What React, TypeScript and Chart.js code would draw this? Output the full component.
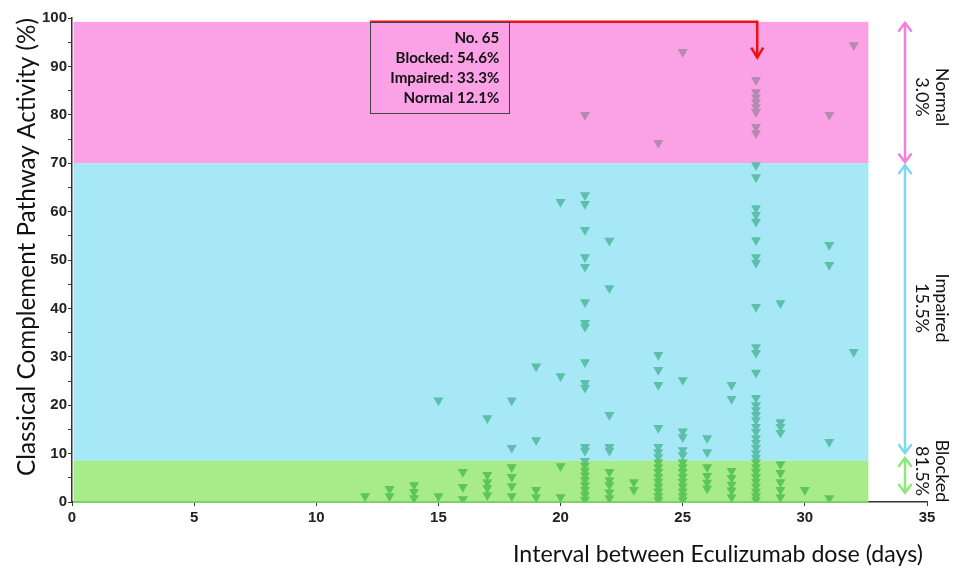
import React, { useEffect, useRef } from "react";
import { Chart, registerables } from "chart.js";

Chart.register(...registerables);

// Interval (days) for each column of points
const days = [12, 13, 14, 15, 16, 17, 18, 19, 20, 21, 22, 23, 24, 25, 26, 27, 28, 29, 30, 31, 32];

// CCPA values (%) per interval day
const d12 = [1.2];
const d13 = [2.7, 1.2];
const d14 = [3.5, 2.1, 0.8];
const d15 = [21, 1.2];
const d16 = [6.2, 3.1, 0.6];
const d17 = [17.3, 5.6, 4.1, 2.9, 1.4];
const d18 = [21, 11.2, 7.2, 5.2, 3.3, 1.2];
const d19 = [28, 12.8, 2.5, 1.0];
const d20 = [62, 26, 7.4, 1.0];
const d21 = [80, 63.4, 61.6, 56.2, 50.6, 48.6, 41.3, 37, 36.2, 28.9, 24.6, 23.6, 11.4, 10.6, 8.5, 7.5, 6.5, 5.5, 4.5, 3.5, 2.5, 1.5, 0.5];
const d22 = [54, 44.2, 18, 11.4, 10.6, 6.2, 4.5, 3.5, 2.0, 0.8];
const d23 = [4.1, 2.5];
const d24 = [74.2, 30.4, 27.3, 24.2, 15.3, 11.4, 10.3, 9.3, 8.2, 7.2, 6.2, 5.2, 4.2, 3.2, 2.2, 1.2, 0.4];
const d25 = [93, 25.2, 14.6, 13.4, 10.7, 9.7, 8.2, 7.2, 6.2, 5.2, 4.2, 3.2, 2.2, 1.2, 0.4];
const d26 = [13.2, 10.3, 7.2, 5.4, 4.0, 2.8];
const d27 = [24.2, 21.3, 6.4, 5.0, 3.6, 2.4, 1.0];
const d28 = [87.2, 84.7, 83.6, 82.6, 81.6, 80.6, 77.5, 76.2, 69.6, 67.1, 60.7, 59.3, 57.9, 54.1, 50.6, 49.4, 40.3, 32, 30.8, 26.7, 21.5, 20, 19, 18, 16.9, 15.5, 14.5, 13.2, 12.2, 11.2, 10.1, 9.1, 8.2, 7.2, 6.2, 5.2, 4.2, 3.2, 2.2, 1.2, 0.4];
const d29 = [41.1, 16.5, 15.5, 14.3, 7.8, 6.0, 4.1, 2.5, 1.0];
const d30 = [2.5];
const d31 = [80, 53.1, 49, 12.4, 0.8];
const d32 = [94.4, 31];

const columns = [d12, d13, d14, d15, d16, d17, d18, d19, d20, d21, d22, d23, d24, d25, d26, d27, d28, d29, d30, d31, d32];

// Activity zones (%)
const zoneBlockedTop = 8.5;
const zoneImpairedTop = 70;
const zoneNormalTop = 99.2;
const zoneRightDay = 32.6;

const boxLines = ["No. 65", "Blocked: 54.6%", "Impaired: 33.3%", "Normal 12.1%"];
const zoneLabels = [
  { name: "Normal", pct: "3.0%" },
  { name: "Impaired", pct: "15.5%" },
  { name: "Blocked", pct: "81.5%" },
];

const yTitle = "Classical Complement Pathway Activity (%)";
const xTitle = "Interval between Eculizumab dose (days)";

const FONT = "'Liberation Sans', Arial, sans-serif";
const TITLE_FONT = "Lato, 'Open Sans', sans-serif";

function pointColor(v: number) {
  if (v >= zoneImpairedTop) return "#b58ab0";
  if (v >= zoneBlockedTop) return "#5bbfa9";
  return "#5cc65a";
}

function fitFont(ctx: CanvasRenderingContext2D, text: string, target: number, weight: string) {
  ctx.font = `${weight} 20px ${TITLE_FONT}`;
  const w = ctx.measureText(text).width;
  const size = (20 * target) / w;
  ctx.font = `${weight} ${size.toFixed(2)}px ${TITLE_FONT}`;
  return size;
}

function arrow(ctx: CanvasRenderingContext2D, x: number, y1: number, y2: number, color: string) {
  ctx.save();
  ctx.strokeStyle = color;
  ctx.lineWidth = 2.5;
  ctx.lineCap = "round";
  ctx.beginPath();
  ctx.moveTo(x, y1);
  ctx.lineTo(x, y2);
  ctx.moveTo(x - 6, y1 + 8);
  ctx.lineTo(x, y1);
  ctx.lineTo(x + 6, y1 + 8);
  ctx.moveTo(x - 6, y2 - 8);
  ctx.lineTo(x, y2);
  ctx.lineTo(x + 6, y2 - 8);
  ctx.stroke();
  ctx.restore();
}

const decorPlugin = {
  id: "decor",
  beforeDatasetsDraw(chart: any) {
    const { ctx, scales } = chart;
    const xs = scales.x;
    const ys = scales.y;
    const left = xs.getPixelForValue(0) + 1.5;
    const right = xs.getPixelForValue(zoneRightDay);
    const yb = ys.getPixelForValue(0);
    const yg = ys.getPixelForValue(zoneBlockedTop);
    const yi = ys.getPixelForValue(zoneImpairedTop);
    const yn = ys.getPixelForValue(zoneNormalTop);
    ctx.save();
    ctx.fillStyle = "#fba2e6";
    ctx.fillRect(left, yn, right - left, yi - yn);
    ctx.fillStyle = "#a6e8f5";
    ctx.fillRect(left, yi, right - left, yg - yi);
    ctx.fillStyle = "#a8ec8a";
    ctx.fillRect(left, yg, right - left, yb - yg + 1);
    ctx.strokeStyle = "#6ec85e";
    ctx.lineWidth = 1.5;
    ctx.beginPath();
    ctx.moveTo(left, yb);
    ctx.lineTo(right, yb);
    ctx.stroke();
    ctx.restore();
  },
  afterDatasetsDraw(chart: any) {
    const { ctx, scales, chartArea } = chart;
    const xs = scales.x;
    const ys = scales.y;

    // red connector and arrow
    const rx1 = xs.getPixelForValue(12.2);
    const rx2 = xs.getPixelForValue(28.05);
    const ry = ys.getPixelForValue(zoneNormalTop);
    const ryEnd = ys.getPixelForValue(91.8);
    ctx.save();
    ctx.strokeStyle = "#ee1111";
    ctx.lineWidth = 2.5;
    ctx.beginPath();
    ctx.moveTo(rx1, ry);
    ctx.lineTo(rx2, ry);
    ctx.lineTo(rx2, ryEnd);
    ctx.stroke();
    ctx.beginPath();
    ctx.moveTo(rx2 - 6, ryEnd - 10);
    ctx.lineTo(rx2, ryEnd);
    ctx.lineTo(rx2 + 6, ryEnd - 10);
    ctx.stroke();

    // box
    const bx2 = xs.getPixelForValue(17.9);
    const by2 = ys.getPixelForValue(80.3);
    ctx.strokeStyle = "#444";
    ctx.lineWidth = 1;
    ctx.strokeRect(Math.round(rx1) + 0.5, Math.round(ry) + 0.5, Math.round(bx2 - rx1), Math.round(by2 - ry));
    ctx.fillStyle = "#111";
    fitFont(ctx, boxLines[2], 109, "bold");
    ctx.textAlign = "right";
    ctx.textBaseline = "middle";
    boxLines.forEach((t, i) => ctx.fillText(t, bx2 - 10, ry + 16 + i * 20));
    ctx.restore();

    // zone arrows
    const ax = chartArea.right - 22;
    arrow(ctx, ax, ys.getPixelForValue(99.0), ys.getPixelForValue(70.2), "#f77fd9");
    arrow(ctx, ax, ys.getPixelForValue(69.6), ys.getPixelForValue(10.1), "#7dd9f0");
    arrow(ctx, ax, ys.getPixelForValue(9.1), ys.getPixelForValue(1.9), "#8ce97a");

    // zone labels (rotated)
    const labelCenters = [97, 308, 471];
    ctx.save();
    ctx.fillStyle = "#111";
    fitFont(ctx, "Impaired", 69, "normal");
    ctx.textAlign = "center";
    ctx.textBaseline = "middle";
    zoneLabels.forEach((z, i) => {
      ctx.save();
      ctx.translate(chartArea.right + 5, labelCenters[i]);
      ctx.rotate(Math.PI / 2);
      ctx.fillText(z.name, 0, -10);
      ctx.fillText(z.pct, 0, 10);
      ctx.restore();
    });
    ctx.restore();

    // axis titles
    ctx.save();
    ctx.fillStyle = "#111";
    ctx.textBaseline = "middle";
    ctx.textAlign = "center";
    ctx.save();
    fitFont(ctx, yTitle, 458, "normal");
    ctx.translate(27, 247);
    ctx.rotate(-Math.PI / 2);
    ctx.fillText(yTitle, 0, 0);
    ctx.restore();
    fitFont(ctx, xTitle, 410, "normal");
    ctx.fillText(xTitle, 718, 555);
    ctx.restore();
  },
};

export default function App() {
  const ref = useRef<HTMLCanvasElement | null>(null);

  useEffect(() => {
    if (!ref.current) return;
    const points: { x: number; y: number }[] = [];
    days.forEach((d, i) => columns[i].forEach((v) => points.push({ x: d, y: v })));

    const chart = new Chart(ref.current, {
      type: "scatter",
      data: {
        datasets: [
          {
            data: points,
            pointStyle: "triangle",
            rotation: 180,
            radius: 5.8,
            borderWidth: 0,
            backgroundColor: (c: any) => pointColor(c.raw ? c.raw.y : 0),
            pointBackgroundColor: (c: any) => pointColor(c.raw ? c.raw.y : 0),
          } as any,
        ],
      },
      options: {
        responsive: false,
        animation: false,
        layout: { padding: { top: 18, right: 40, left: 0, bottom: 0 } },
        plugins: { legend: { display: false }, tooltip: { enabled: false }, title: { display: false } },
        scales: {
          x: {
            type: "linear",
            min: 0,
            max: 35,
            afterFit: (s: any) => {
              s.height = 67;
            },
            ticks: { stepSize: 5, color: "#222", font: { family: FONT, weight: "bold", size: 15 }, padding: 3 },
            grid: { display: true, drawOnChartArea: false, drawTicks: true, tickLength: 4, color: "#333" },
            border: { display: true, color: "#333", width: 1.5 },
          },
          y: {
            type: "linear",
            min: 0,
            max: 100,
            afterFit: (s: any) => {
              s.width = 72;
            },
            ticks: {
              stepSize: 5,
              color: "#222",
              font: { family: FONT, weight: "bold", size: 15 },
              padding: 1,
              callback: (v: any) => (Number(v) % 10 === 0 ? String(v) : ""),
            },
            grid: { display: true, drawOnChartArea: false, drawTicks: true, tickLength: 4, color: "#333" },
            border: { display: true, color: "#333", width: 1.5 },
          },
        },
      },
      plugins: [decorPlugin],
    });
    return () => chart.destroy();
  }, []);

  return (
    <div style={{ position: "fixed", left: 0, top: 0, width: 967, height: 569, background: "#fff" }}>
      <canvas ref={ref} width={967} height={569} style={{ display: "block", width: 967, height: 569 }} />
    </div>
  );
}
